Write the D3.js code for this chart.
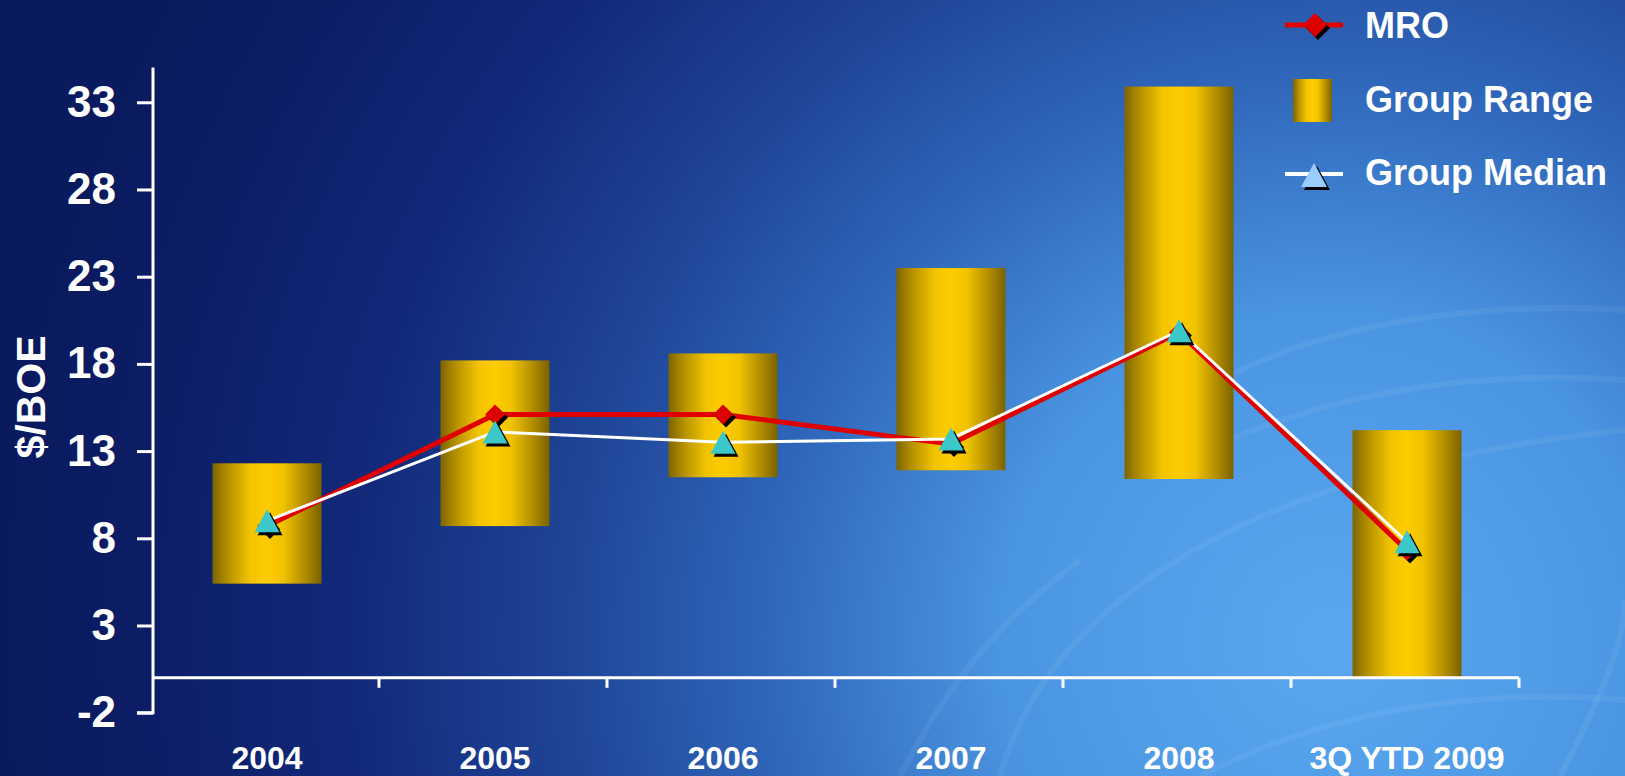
<!DOCTYPE html>
<html>
<head>
<meta charset="utf-8">
<script src="https://cdn.jsdelivr.net/npm/d3@7"></script>
<style>
html,body{margin:0;padding:0;overflow:hidden;background:#0a1a5e;}
svg{display:block;font-family:"Liberation Sans",Arial,sans-serif;font-weight:bold;}
</style>
</head>
<body>
<svg id="chart" width="1625" height="776"></svg>
<script>
const categories = ["2004","2005","2006","2007","2008","3Q YTD 2009"];
const rangeLow  = [5.4, 8.7, 11.5, 11.9, 11.4, 0];
const rangeHigh = [12.3, 18.2, 18.6, 23.5, 33.9, 14.2];
const mroValues = [8.7, 15.1, 15.1, 13.4, 19.8, 7.3];
const medianValues = [9.0, 14.1, 13.5, 13.7, 19.9, 7.8];
const yTicks = [-2, 3, 8, 13, 18, 23, 28, 33];
const legendLabels = ["MRO", "Group Range", "Group Median"];
const yTitle = "$/BOE";

const W = 1625, H = 776;
const svg = d3.select("#chart");
const defs = svg.append("defs");

// background
const bg = defs.append("radialGradient").attr("id","bg")
  .attr("gradientUnits","userSpaceOnUse").attr("cx",1330).attr("cy",640).attr("r",1320);
[[0,"#5aa8f0"],[0.25,"#4a95e2"],[0.42,"#3068bc"],[0.58,"#1f4496"],[0.74,"#12297a"],[0.9,"#0c1d66"],[1,"#0a1a5e"]]
  .forEach(([o,c])=>bg.append("stop").attr("offset",o).attr("stop-color",c));
svg.append("rect").attr("width",W).attr("height",H).attr("fill","url(#bg)");

// faint decorative arcs
const arcs = svg.append("g").attr("fill","none").attr("stroke","#ffffff").attr("stroke-opacity",0.06).attr("stroke-width",6);
arcs.append("path").attr("d","M1140,440 C1250,330 1450,300 1625,310");
arcs.append("path").attr("d","M1150,480 C1300,390 1480,370 1625,380");
arcs.append("path").attr("d","M1000,776 C1050,600 1250,470 1625,430");
arcs.append("path").attr("d","M900,776 C950,680 1000,620 1080,560");
arcs.append("path").attr("d","M1560,776 C1600,700 1625,640 1625,600");
arcs.append("path").attr("d","M1200,776 C1350,700 1500,690 1625,700");

// bar gradient
const bg2 = defs.append("linearGradient").attr("id","gold").attr("x1","0").attr("x2","1").attr("y1","0").attr("y2","0");
[[0,"#7d6500"],[0.15,"#b89300"],[0.35,"#f2c400"],[0.5,"#ffcc00"],[0.65,"#f0c200"],[0.85,"#b08c00"],[1,"#7a6200"]]
  .forEach(([o,c])=>bg2.append("stop").attr("offset",o).attr("stop-color",c));

const x = d3.scaleBand().domain(categories).range([153, 1521]).paddingInner(0).paddingOuter(0);
const y = d3.scaleLinear().domain([-2, 35]).range([712.7, 67.4]);
const barW = x.bandwidth() * 0.478;
const cx = c => x(c) + x.bandwidth()/2;

// bars
svg.append("g").selectAll("rect").data(categories).join("rect")
  .attr("x", c => cx(c) - barW/2)
  .attr("width", barW)
  .attr("y", (c,i) => y(rangeHigh[i]))
  .attr("height", (c,i) => y(rangeLow[i]) - y(rangeHigh[i]))
  .attr("fill","url(#gold)");

// y axis
const yAxis = svg.append("g").attr("transform","translate(153,0)")
  .call(d3.axisLeft(y).tickValues(yTicks).tickSize(16).tickPadding(21).tickFormat(d => String(d)));
yAxis.select(".domain").attr("d", `M0,${y(35)}V${y(-2)}H-16`).attr("stroke","#fff").attr("stroke-width",3);
yAxis.selectAll(".tick line").attr("stroke","#fff").attr("stroke-width",3);
yAxis.selectAll(".tick text").attr("fill","#fff").attr("font-size",44).attr("font-weight","bold")
  .attr("font-family","'Liberation Sans',Arial,sans-serif");

// x axis line at 0
const xg = svg.append("g");
xg.append("line").attr("x1",153).attr("x2",x.range()[1]-2).attr("y1",y(0)).attr("y2",y(0))
  .attr("stroke","#fff").attr("stroke-width",3);
xg.selectAll("line.tk").data(categories).join("line").attr("class","tk")
  .attr("x1", c => x(c) + x.bandwidth() - 2).attr("x2", c => x(c) + x.bandwidth() - 2)
  .attr("y1", y(0)).attr("y2", y(0) + 10)
  .attr("stroke","#fff").attr("stroke-width",3);
xg.selectAll("text").data(categories).join("text")
  .attr("x", c => cx(c)).attr("y", 769)
  .attr("text-anchor","middle").attr("fill","#fff").attr("font-size",32).attr("font-weight","bold")
  .text(c => c);

// y title
svg.append("text").attr("transform","translate(45,397) rotate(-90)")
  .attr("text-anchor","middle").attr("fill","#fff").attr("font-size",41).attr("font-weight","bold")
  .text(yTitle);

// lines
const line = d3.line().x(d => d[0]).y(d => d[1]);
const mroPts = categories.map((c,i) => [cx(c), y(mroValues[i])]);
const medPts = categories.map((c,i) => [cx(c), y(medianValues[i])]);
svg.append("path").attr("d", line(mroPts)).attr("fill","none").attr("stroke","#e00000").attr("stroke-width",5).attr("stroke-linejoin","round");
svg.append("path").attr("d", line(medPts)).attr("fill","none").attr("stroke","#ffffff").attr("stroke-width",3).attr("stroke-linejoin","round");

const diamond = (r) => `M0,${-r}L${r},0L0,${r}L${-r},0Z`;
const tri = (w,h) => `M0,${-h/2}L${w/2},${h/2}L${-w/2},${h/2}Z`;

// MRO markers
const mg = svg.append("g");
mroPts.forEach(p => {
  mg.append("path").attr("d", diamond(10)).attr("transform",`translate(${p[0]+3},${p[1]+3})`).attr("fill","#000");
  mg.append("path").attr("d", diamond(10)).attr("transform",`translate(${p[0]},${p[1]})`).attr("fill","#dd0000");
});
// median markers
const tg = svg.append("g");
medPts.forEach(p => {
  tg.append("path").attr("d", tri(25,23)).attr("transform",`translate(${p[0]+3},${p[1]+3})`).attr("fill","#000");
  tg.append("path").attr("d", tri(25,23)).attr("transform",`translate(${p[0]},${p[1]})`).attr("fill","#3cc8c8");
});

// legend
const lg = svg.append("g");
const lyBase = [38, 112, 185];
lg.selectAll("text").data(legendLabels).join("text")
  .attr("x",1365).attr("y",(d,i)=>lyBase[i]).attr("fill","#fff").attr("font-size",36).attr("font-weight","bold").text(d=>d);
// MRO legend
lg.append("line").attr("x1",1285).attr("x2",1343).attr("y1",25).attr("y2",25).attr("stroke","#e00000").attr("stroke-width",5);
lg.append("path").attr("d",diamond(12)).attr("transform","translate(1318,28)").attr("fill","#000");
lg.append("path").attr("d",diamond(12)).attr("transform","translate(1315,25)").attr("fill","#dd0000");
// range legend
lg.append("rect").attr("x",1293).attr("y",79).attr("width",39).attr("height",43).attr("fill","url(#gold)");
// median legend
lg.append("line").attr("x1",1285).attr("x2",1343).attr("y1",174).attr("y2",174).attr("stroke","#fff").attr("stroke-width",4);
lg.append("path").attr("d",tri(26,24)).attr("transform","translate(1317,178)").attr("fill","#000");
lg.append("path").attr("d",tri(26,24)).attr("transform","translate(1314,175)").attr("fill","#99ccff");
</script>
</body>
</html>
